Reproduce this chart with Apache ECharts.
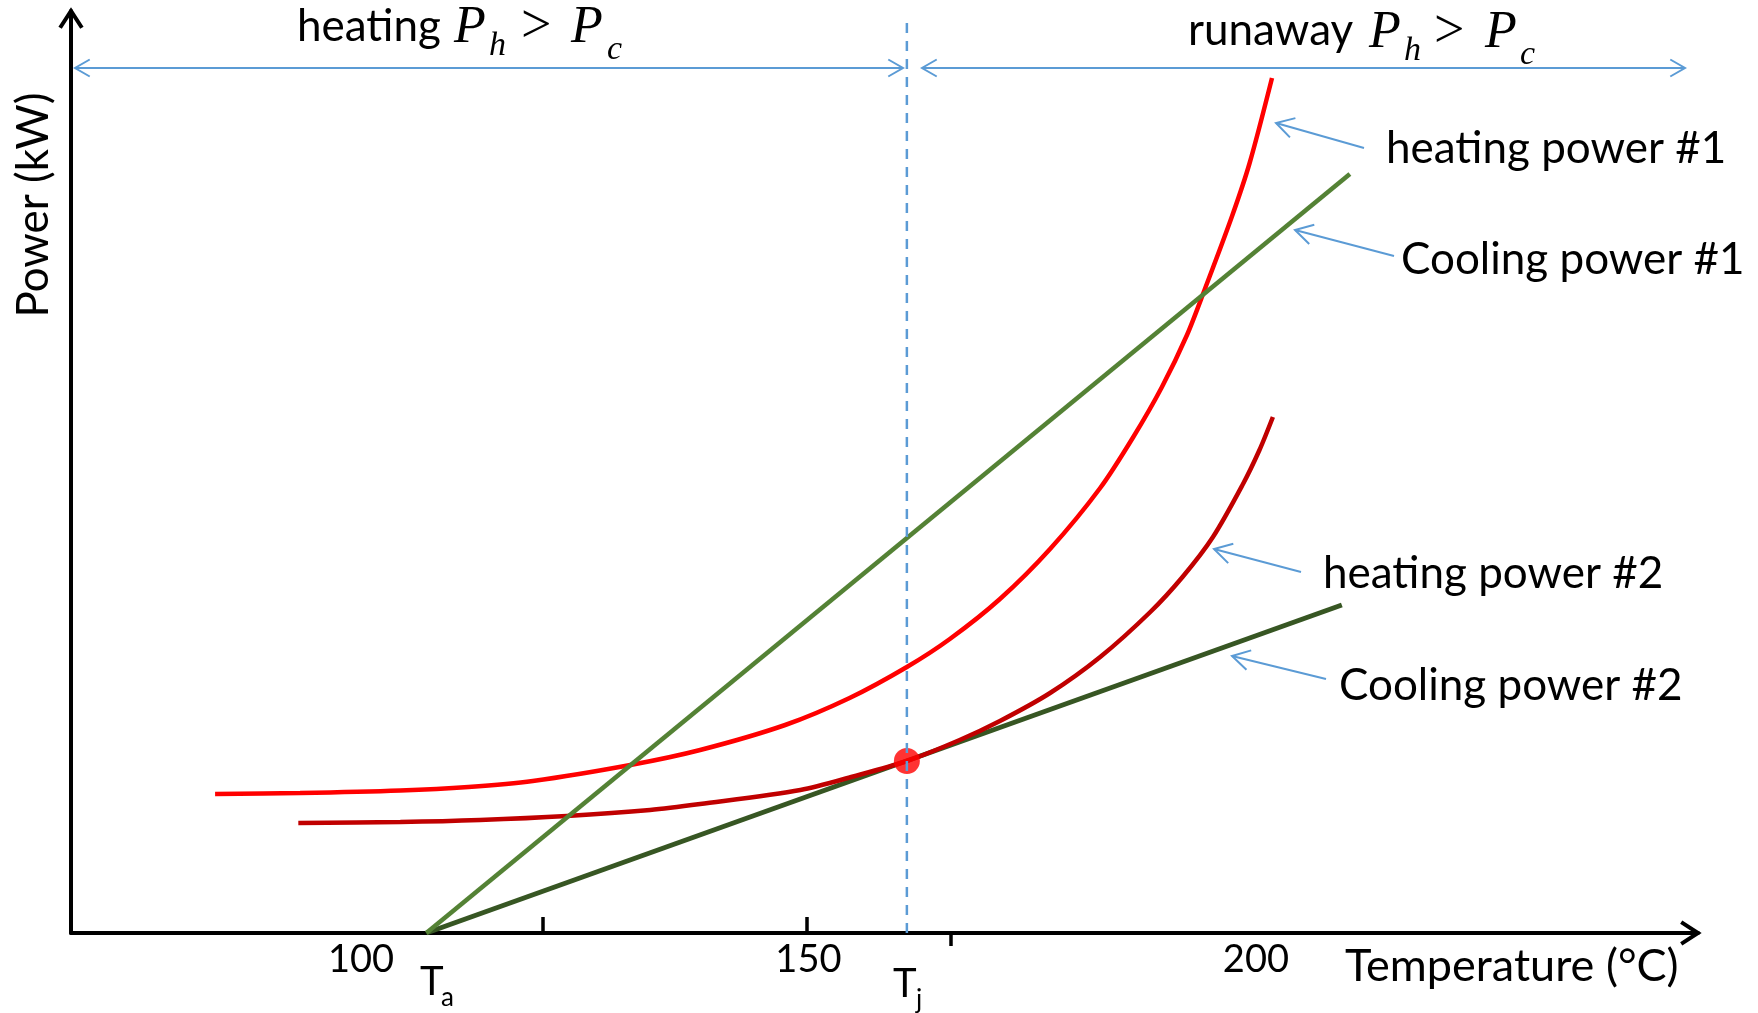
<!DOCTYPE html>
<html><head><meta charset="utf-8">
<script src="https://cdn.jsdelivr.net/npm/echarts@6/dist/echarts.min.js"></script>
<style>html,body{margin:0;padding:0;background:#fff}#c{width:1758px;height:1013px}</style>
</head><body><div id="c"></div>
<script>
// ---- data (temperature °C, power in arbitrary kW units) ----
const heating1T = [83.7, 93.2, 104.4, 112.0, 119.2, 130.1, 137.9, 147.4, 154.6, 161.0, 165.8, 171.4, 177.0, 182.6, 186.3, 189.5, 192.3, 194.3, 197.3, 199.3, 201.8];
const heating1P = [13.9, 14.0, 14.25, 14.6, 15.2, 16.8, 18.3, 20.8, 23.5, 26.6, 29.4, 33.4, 38.4, 44.5, 49.6, 54.6, 59.8, 64.4, 71.6, 77.0, 85.5];
const heating2T = [93.0, 104.4, 113.3, 123.0, 132.3, 137.9, 149.1, 155.0, 161.0, 166.9, 171.4, 177.0, 182.6, 188.2, 191.8, 195.2, 198.5, 200.4, 201.9];
const heating2P = [11.0, 11.1, 11.3, 11.7, 12.3, 12.9, 14.3, 15.65, 17.2, 19.3, 21.2, 24.0, 27.6, 32.1, 35.6, 39.6, 44.8, 48.3, 51.6];
const cooling1T = [107.3, 210.5];
const cooling1P = [0, 75.9];
const cooling2T = [107.3, 209.6];
const cooling2P = [0, 32.8];
const Ta = 107.3, Tj = 161.0, Pj = 17.2;
const xLabelValues = [100, 150, 200];
const xTickUpValues = [120.3, 149.8];
const xTickDownValues = [165.9];
const xMin = 67.6, xMax = 249.4, yMin = 0, yMax = 92.2;
const dashTop = 91.8;

const zip = (a, b) => a.map((v, i) => [v, b[i]]);

const chart = echarts.init(document.getElementById('c'), null, {renderer: 'canvas'});

const BLUE = '#5B9BD5';
const SANS = 'Lato';
const SERIF = 'Liberation Serif';

function head(tx, ty, bx, by, len, angDeg) {
  const L = Math.hypot(bx, by); const ux = bx / L, uy = by / L;
  const a = angDeg * Math.PI / 180;
  const r = (c, s) => [tx + len * (ux * c - uy * s), ty + len * (ux * s + uy * c)];
  return [r(Math.cos(a), Math.sin(a)), [tx, ty], r(Math.cos(a), -Math.sin(a))];
}
function arrowLine(tail, tip, w) {
  return [
    {type: 'polyline', shape: {points: [tail, tip]}, style: {stroke: BLUE, lineWidth: w, fill: null}},
    {type: 'polyline', shape: {points: head(tip[0], tip[1], tail[0] - tip[0], tail[1] - tip[1], 20, 30)}, style: {stroke: BLUE, lineWidth: w, fill: null}}
  ];
}
function dbl(x1, x2, y) {
  return [
    {type: 'polyline', shape: {points: [[x1, y], [x2, y]]}, style: {stroke: BLUE, lineWidth: 2, fill: null}},
    {type: 'polyline', shape: {points: head(x1, y, 1, 0, 17, 30)}, style: {stroke: BLUE, lineWidth: 2, fill: null}},
    {type: 'polyline', shape: {points: head(x2, y, -1, 0, 17, 30)}, style: {stroke: BLUE, lineWidth: 2, fill: null}}
  ];
}
function txt(text, x, y, font, size, opt) {
  return {type: 'text', x: x, y: y, z: 100, style: {text: text, fontFamily: font, fontSize: size, fill: '#000',
    align: 'left', verticalAlign: 'middle', fontStyle: (opt && opt.italic) ? 'italic' : 'normal'}};
}

const graphics = [].concat(
  [{type: 'polyline', shape: {points: head(1698, 933, -1, 0, 20, 33)}, style: {stroke: '#000', lineWidth: 4, fill: null}},
   {type: 'polyline', shape: {points: head(71, 11, 0, 1, 20, 33)}, style: {stroke: '#000', lineWidth: 4, fill: null}}],
  dbl(75, 903, 68),
  dbl(922, 1685, 68),
  arrowLine([1364, 148], [1276, 123], 2),
  arrowLine([1394, 256], [1295, 230], 2),
  arrowLine([1301, 572], [1214, 549], 2),
  arrowLine([1326, 679], [1232, 656], 2),
  [
    txt('heating power #1', 1386, 149, SANS, 44),
    txt('Cooling power #1', 1401, 260, SANS, 44),
    txt('heating power #2', 1323, 574, SANS, 44),
    txt('Cooling power #2', 1339, 686, SANS, 44),
    txt('Temperature (°C)', 1345, 966, SANS, 45),
    {type: 'text', x: 34, y: 205, rotation: Math.PI / 2, z: 100,
     style: {text: 'Power (kW)', fontFamily: SANS, fontSize: 44, fill: '#000', align: 'center', verticalAlign: 'middle'}},
    txt('heating', 297, 27, SANS, 44),
    txt('P', 454, 28, SERIF, 52, {italic: true}),
    txt('h', 489, 46, SERIF, 34, {italic: true}),
    txt('>', 521, 28, SERIF, 54),
    txt('P', 571, 28, SERIF, 52, {italic: true}),
    txt('c', 607, 50, SERIF, 34, {italic: true}),
    txt('runaway', 1188, 31, SANS, 44),
    txt('P', 1369, 33, SERIF, 52, {italic: true}),
    txt('h', 1404, 51, SERIF, 34, {italic: true}),
    txt('>', 1434, 33, SERIF, 54),
    txt('P', 1485, 33, SERIF, 52, {italic: true}),
    txt('c', 1520, 55, SERIF, 34, {italic: true}),
    txt('T', 420, 982, SANS, 40),
    txt('a', 441, 998, SANS, 26),
    txt('T', 893, 984, SANS, 40),
    txt('j', 916, 1000, SANS, 26)
  ]
);

const option = {
  animation: false,
  backgroundColor: '#fff',
  grid: {left: 71, top: 11, width: 1627, height: 922},
  xAxis: [{
    type: 'value', min: xMin, max: xMax, position: 'bottom',
    axisLine: {show: true, lineStyle: {color: '#000', width: 4}},
    axisTick: {show: true, inside: true, length: 16, customValues: xTickUpValues, lineStyle: {color: '#000', width: 3.5}},
    axisLabel: {show: true, customValues: xLabelValues, color: '#000', fontFamily: SANS, fontSize: 38, margin: 8},
    splitLine: {show: false}
  }, {
    type: 'value', min: xMin, max: xMax, position: 'top', offset: -922,
    axisLine: {show: false},
    axisTick: {show: true, inside: true, length: 13, customValues: xTickDownValues, lineStyle: {color: '#000', width: 3.5}},
    axisLabel: {show: false},
    splitLine: {show: false}
  }],
  yAxis: {
    type: 'value', min: yMin, max: yMax,
    axisLine: {show: true, lineStyle: {color: '#000', width: 4}},
    axisTick: {show: false}, axisLabel: {show: false}, splitLine: {show: false}
  },
  series: [
    {name: 'Cooling power #2', type: 'line', data: zip(cooling2T, cooling2P), showSymbol: false, z: 2,
     lineStyle: {color: '#375623', width: 5}},
    {name: 'heating power #1', type: 'line', data: zip(heating1T, heating1P), smooth: 0.3, showSymbol: false, z: 3,
     lineStyle: {color: '#FF0000', width: 4.5}},
    {name: 'heating power #2', type: 'line', data: zip(heating2T, heating2P), smooth: 0.3, showSymbol: false, z: 4,
     lineStyle: {color: '#C00000', width: 4.5}},
    {name: 'Cooling power #1', type: 'line', data: zip(cooling1T, cooling1P), showSymbol: false, z: 5,
     lineStyle: {color: '#548235', width: 4.5}},
    {name: 'critical point', type: 'scatter', data: [[Tj, Pj]], symbolSize: 26, z: 6, itemStyle: {color: '#FF0000'}},
    {name: 'Tj', type: 'line', data: [[Tj, 0], [Tj, dashTop]], showSymbol: false, z: 7,
     lineStyle: {color: BLUE, width: 2.5, type: [10, 8]}}
  ],
  graphic: graphics
};
chart.setOption(option);
</script></body></html>
